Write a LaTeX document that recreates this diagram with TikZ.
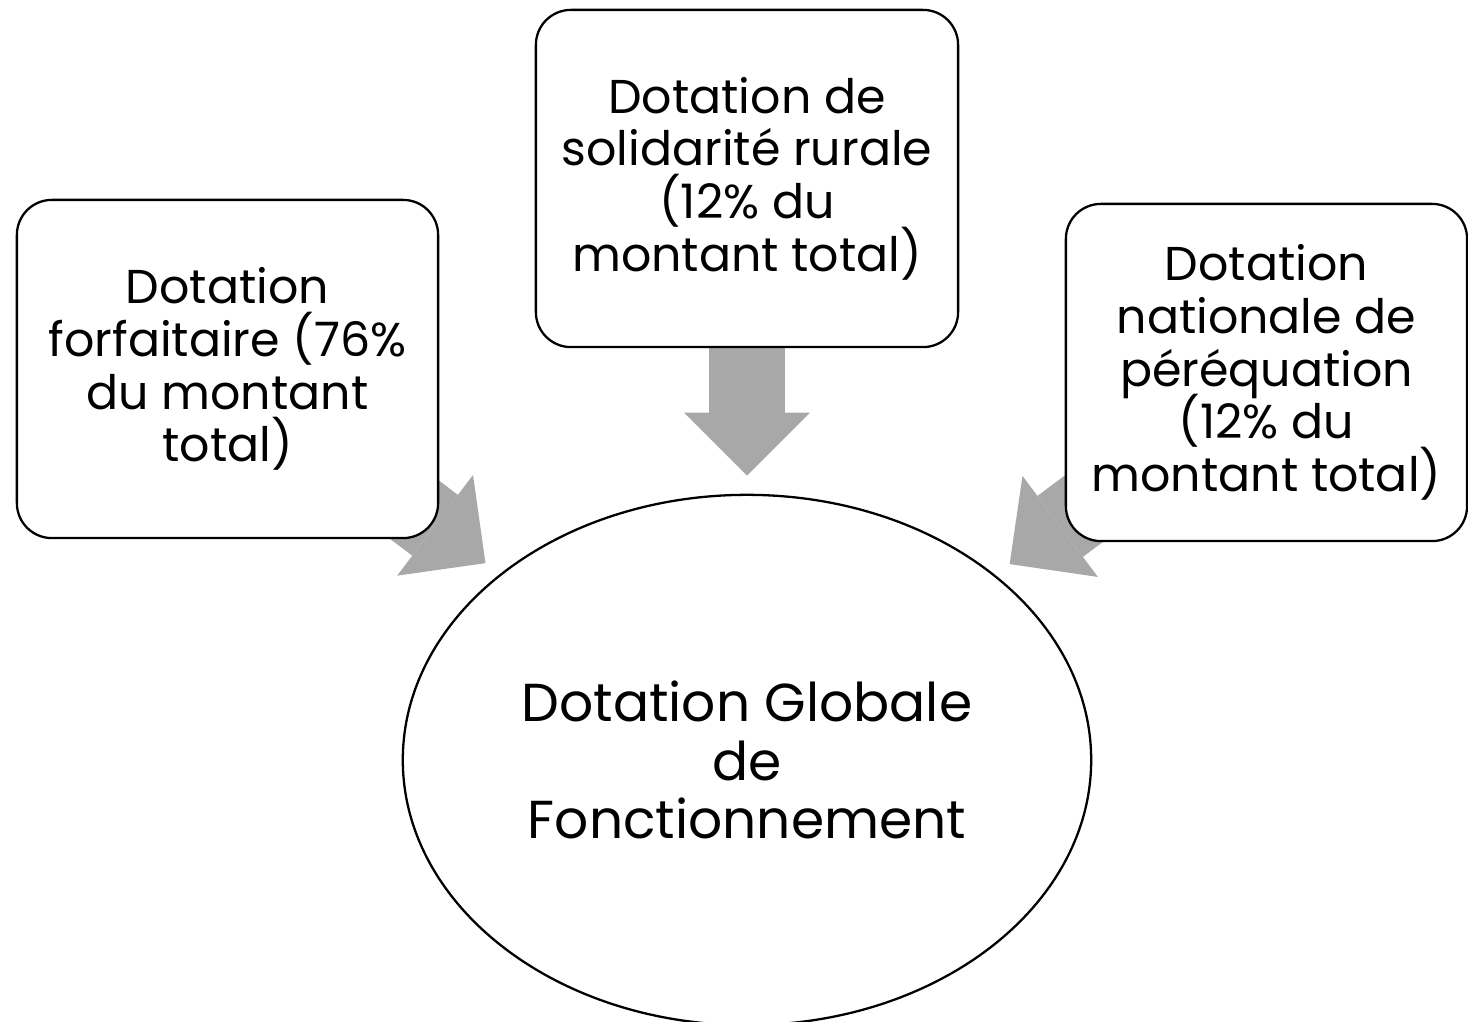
\documentclass[tikz,border=0pt]{standalone}
\usepackage{fontspec}
\setmainfont{Poppins}
\usetikzlibrary{arrows.meta,shapes.geometric,backgrounds}
\definecolor{arrowgray}{RGB}{168,168,168}
\newcommand{\partfont}{\fontsize{13.5}{15}\selectfont\setlength{\lineskiplimit}{-10pt}}

\begin{document}
\begin{tikzpicture}[x=0.01cm,y=-0.01cm,
    part/.style={draw,line width=0.65pt,rounded corners=0.35cm,fill=white,
      align=center,inner sep=0pt,font=\partfont},
    flow/.style={color=arrowgray,line width=0.76cm,shorten >=0.18cm,
      -{Triangle[width=1.26cm,length=0.63cm,line width=0pt]}}]
  \useasboundingbox (0,0) rectangle (1468,1022);
  % The whole amount: one large ellipse at the bottom.
  \node[draw,ellipse,line width=0.65pt,minimum width=6.88cm,minimum height=5.3cm,
    inner sep=0pt,align=center,font=\fontsize{15.2}{16.7}\selectfont]
    (dgf) at (747,760) {Dotation Globale\\de\\Fonctionnement};
  % Its three parts.
  \node[part,minimum width=4.21cm,minimum height=3.38cm] (forf) at (227.5,369)
    {Dotation\\forfaitaire (76\%\\du montant\\total)};
  \node[part,minimum width=4.22cm,minimum height=3.37cm] (dsr) at (747,178.5)
    {Dotation de\\solidarité rurale\\(12\% du\\montant total)};
  \node[part,minimum width=4.01cm,minimum height=3.37cm] (dnp) at (1266.5,372.5)
    {Dotation\\nationale de\\péréquation\\(12\% du\\montant total)};
  % Grey block arrows, behind the boxes.
  \begin{scope}[on background layer]
    \draw[flow] (forf.center) -- (dgf);
    \draw[flow] (dsr.center) -- (dgf);
    \draw[flow] (dnp.center) -- (dgf);
  \end{scope}
\end{tikzpicture}
\end{document}
